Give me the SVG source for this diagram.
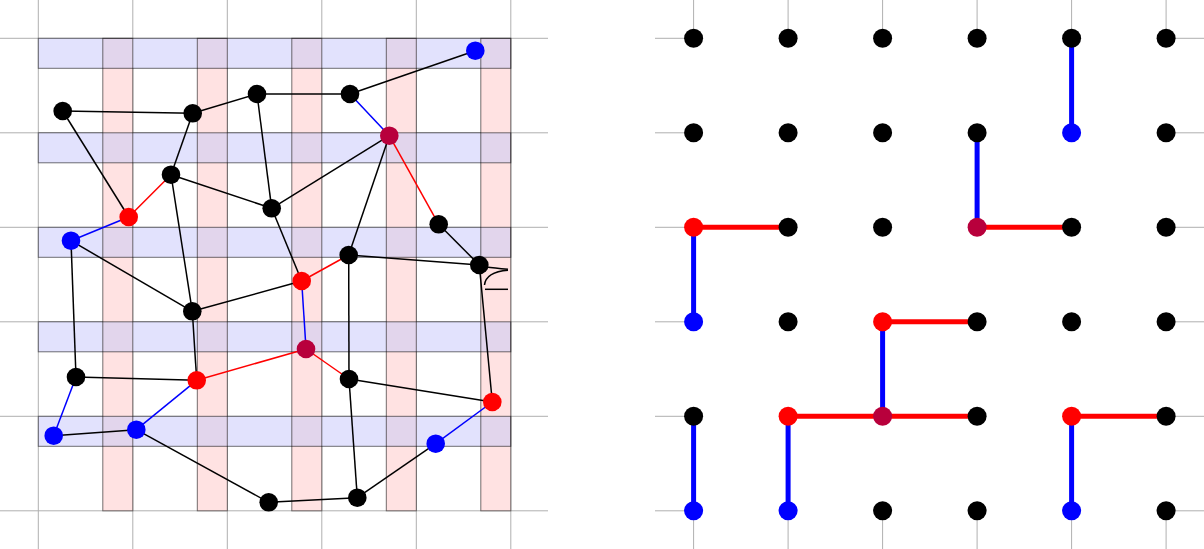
<svg xmlns="http://www.w3.org/2000/svg" width="1204" height="549" viewBox="0 0 1204 549">
<style>
.grid{stroke:#b0b0b0;stroke-width:1;fill:none}
.bb{fill:#e2e2fd}
.pb{fill:#ffe2e2}
.ob{fill:#e2d5ec}
.bs{fill:none;stroke:#000;stroke-opacity:0.55;stroke-width:1}
.ek{stroke:#000;stroke-width:1.5;fill:none}
.er{stroke:#ff0000;stroke-width:1.5;fill:none}
.eb{stroke:#0000ff;stroke-width:1.5;fill:none}
.tr{stroke:#ff0000;stroke-width:5;fill:none}
.tb{stroke:#0000ff;stroke-width:5;fill:none}
.k{fill:#000}
.r{fill:#ff0000}
.b{fill:#0000ff}
.p{fill:#b8003c}
</style>
<rect x="0" y="0" width="1204" height="549" fill="#fff"/>
<g id="left-grid" class="grid">
<path d="M38.3 0V549M132.8 0V549M227.3 0V549M321.8 0V549M416.3 0V549M510.8 0V549"/>
<path d="M0 38.3H548M0 132.8H548M0 227.3H548M0 321.8H548M0 416.3H548M0 510.8H548"/>
</g>
<g id="bands">
<g class="bb">
<rect x="38.3" y="38.3" width="472.5" height="30"/>
<rect x="38.3" y="132.8" width="472.5" height="30"/>
<rect x="38.3" y="227.3" width="472.5" height="30"/>
<rect x="38.3" y="321.8" width="472.5" height="30"/>
<rect x="38.3" y="416.3" width="472.5" height="30"/>
</g>
<g class="pb">
<rect x="102.8" y="38.3" width="30" height="472.5"/>
<rect x="197.3" y="38.3" width="30" height="472.5"/>
<rect x="291.8" y="38.3" width="30" height="472.5"/>
<rect x="386.3" y="38.3" width="30" height="472.5"/>
<rect x="480.8" y="38.3" width="30" height="472.5"/>
</g>
<g class="ob">
<rect x="102.8" y="38.3" width="30" height="30"/><rect x="197.3" y="38.3" width="30" height="30"/><rect x="291.8" y="38.3" width="30" height="30"/><rect x="386.3" y="38.3" width="30" height="30"/><rect x="480.8" y="38.3" width="30" height="30"/>
<rect x="102.8" y="132.8" width="30" height="30"/><rect x="197.3" y="132.8" width="30" height="30"/><rect x="291.8" y="132.8" width="30" height="30"/><rect x="386.3" y="132.8" width="30" height="30"/><rect x="480.8" y="132.8" width="30" height="30"/>
<rect x="102.8" y="227.3" width="30" height="30"/><rect x="197.3" y="227.3" width="30" height="30"/><rect x="291.8" y="227.3" width="30" height="30"/><rect x="386.3" y="227.3" width="30" height="30"/><rect x="480.8" y="227.3" width="30" height="30"/>
<rect x="102.8" y="321.8" width="30" height="30"/><rect x="197.3" y="321.8" width="30" height="30"/><rect x="291.8" y="321.8" width="30" height="30"/><rect x="386.3" y="321.8" width="30" height="30"/><rect x="480.8" y="321.8" width="30" height="30"/>
<rect x="102.8" y="416.3" width="30" height="30"/><rect x="197.3" y="416.3" width="30" height="30"/><rect x="291.8" y="416.3" width="30" height="30"/><rect x="386.3" y="416.3" width="30" height="30"/><rect x="480.8" y="416.3" width="30" height="30"/>
</g>
<g class="bs">
<rect x="38.3" y="38.3" width="472.5" height="30"/>
<rect x="38.3" y="132.8" width="472.5" height="30"/>
<rect x="38.3" y="227.3" width="472.5" height="30"/>
<rect x="38.3" y="321.8" width="472.5" height="30"/>
<rect x="38.3" y="416.3" width="472.5" height="30"/>
<rect x="102.8" y="38.3" width="30" height="472.5"/>
<rect x="197.3" y="38.3" width="30" height="472.5"/>
<rect x="291.8" y="38.3" width="30" height="472.5"/>
<rect x="386.3" y="38.3" width="30" height="472.5"/>
<rect x="480.8" y="38.3" width="30" height="472.5"/>
</g>
</g>
<g id="connectors">
<line class="ek" x1="62.7" y1="111" x2="192.7" y2="113.3"/>
<line class="ek" x1="62.7" y1="111" x2="128.7" y2="217"/>
<line class="ek" x1="192.7" y1="113.3" x2="257" y2="94"/>
<line class="ek" x1="192.7" y1="113.3" x2="171" y2="174.7"/>
<line class="ek" x1="257" y1="94" x2="350" y2="94"/>
<line class="ek" x1="257" y1="94" x2="271.7" y2="208.3"/>
<line class="ek" x1="350" y1="94" x2="475.3" y2="50.7"/>
<line class="eb" x1="350" y1="94" x2="389.3" y2="135.7"/>
<line class="ek" x1="389.3" y1="135.7" x2="271.7" y2="208.3"/>
<line class="ek" x1="389.3" y1="135.7" x2="348.7" y2="255"/>
<line class="er" x1="389.3" y1="135.7" x2="438.7" y2="224.3"/>
<line class="ek" x1="438.7" y1="224.3" x2="479.3" y2="265"/>
<line class="er" x1="171" y1="174.7" x2="128.7" y2="217"/>
<line class="ek" x1="171" y1="174.7" x2="271.7" y2="208.3"/>
<line class="ek" x1="171" y1="174.7" x2="192.3" y2="311.3"/>
<line class="eb" x1="128.7" y1="217" x2="71" y2="240.7"/>
<line class="ek" x1="71" y1="240.7" x2="192.3" y2="311.3"/>
<line class="ek" x1="71" y1="240.7" x2="76" y2="377"/>
<line class="ek" x1="271.7" y1="208.3" x2="301.7" y2="281"/>
<line class="er" x1="301.7" y1="281" x2="348.7" y2="255"/>
<line class="ek" x1="301.7" y1="281" x2="192.3" y2="311.3"/>
<line class="eb" x1="301.7" y1="281" x2="306" y2="349"/>
<line class="ek" x1="348.7" y1="255" x2="479.3" y2="265"/>
<line class="ek" x1="348.7" y1="255" x2="349" y2="379"/>
<line class="ek" x1="479.3" y1="265" x2="492.3" y2="402"/>
<path class="ek" d="M486 267Q494 268 508 269.3"/>
<path class="ek" d="M484.5 285Q486 272 508 270.3"/>
<line class="ek" x1="485" y1="289.3" x2="508" y2="289.3"/>
<line class="ek" x1="76" y1="377" x2="196.7" y2="380.3"/>
<line class="eb" x1="76" y1="377" x2="53.7" y2="435.7"/>
<line class="ek" x1="53.7" y1="435.7" x2="136.3" y2="429.7"/>
<line class="eb" x1="136.3" y1="429.7" x2="196.7" y2="380.3"/>
<line class="ek" x1="136.3" y1="429.7" x2="268.7" y2="502.3"/>
<line class="ek" x1="196.7" y1="380.3" x2="192.3" y2="311.3"/>
<line class="er" x1="196.7" y1="380.3" x2="306" y2="349"/>
<line class="er" x1="306" y1="349" x2="349" y2="379"/>
<line class="ek" x1="349" y1="379" x2="492.3" y2="402"/>
<line class="ek" x1="349" y1="379" x2="357.3" y2="497.7"/>
<line class="eb" x1="492.3" y1="402" x2="435.7" y2="443.7"/>
<line class="ek" x1="435.7" y1="443.7" x2="357.3" y2="497.7"/>
<line class="ek" x1="357.3" y1="497.7" x2="268.7" y2="502.3"/>
</g>
<g id="left-nodes">
<g id="nA"><circle class="k" cx="62.7" cy="111" r="9.3"/></g>
<g id="nB"><circle class="k" cx="192.7" cy="113.3" r="9.3"/></g>
<g id="nC"><circle class="k" cx="257" cy="94" r="9.3"/></g>
<g id="nD"><circle class="k" cx="171" cy="174.7" r="9.3"/></g>
<g id="nE"><circle class="r" cx="128.7" cy="217" r="9.3"/></g>
<g id="nF"><circle class="b" cx="71" cy="240.7" r="9.3"/></g>
<g id="nG"><circle class="k" cx="271.7" cy="208.3" r="9.3"/></g>
<g id="nH"><circle class="b" cx="475.3" cy="50.7" r="9.3"/></g>
<g id="nI"><circle class="k" cx="350" cy="94" r="9.3"/></g>
<g id="nJ"><circle class="p" cx="389.3" cy="135.7" r="9.3"/></g>
<g id="nK"><circle class="k" cx="438.7" cy="224.3" r="9.3"/></g>
<g id="nL"><circle class="k" cx="348.7" cy="255" r="9.3"/></g>
<g id="nM"><circle class="k" cx="479.3" cy="265" r="9.3"/></g>
<g id="nN"><circle class="r" cx="301.7" cy="281" r="9.3"/></g>
<g id="nO"><circle class="k" cx="192.3" cy="311.3" r="9.3"/></g>
<g id="nP"><circle class="k" cx="76" cy="377" r="9.3"/></g>
<g id="nQ"><circle class="r" cx="196.7" cy="380.3" r="9.3"/></g>
<g id="nR"><circle class="b" cx="53.7" cy="435.7" r="9.3"/></g>
<g id="nS"><circle class="b" cx="136.3" cy="429.7" r="9.3"/></g>
<g id="nT"><circle class="k" cx="268.7" cy="502.3" r="9.3"/></g>
<g id="nU"><circle class="p" cx="306" cy="349" r="9.3"/></g>
<g id="nV"><circle class="k" cx="349" cy="379" r="9.3"/></g>
<g id="nW"><circle class="r" cx="492.3" cy="402" r="9.3"/></g>
<g id="nX"><circle class="b" cx="435.7" cy="443.7" r="9.3"/></g>
<g id="nY"><circle class="k" cx="357.3" cy="497.7" r="9.3"/></g>
</g>
<g id="right-grid" class="grid">
<path d="M693.6 0V38.3M788.1 0V38.3M882.6 0V38.3M977.1 0V38.3M1071.6 0V38.3M1166.1 0V38.3"/>
<path d="M693.6 510.8V549M788.1 510.8V549M882.6 510.8V549M977.1 510.8V549M1071.6 510.8V549M1166.1 510.8V549"/>
<path d="M655 38.3H693.6M655 132.8H693.6M655 227.3H693.6M655 321.8H693.6M655 416.3H693.6M655 510.8H693.6"/>
<path d="M1166.1 38.3H1204M1166.1 132.8H1204M1166.1 227.3H1204M1166.1 321.8H1204M1166.1 416.3H1204M1166.1 510.8H1204"/>
</g>
<g id="right-connectors">
<line class="tb" x1="1071.6" y1="38.3" x2="1071.6" y2="132.8"/>
<line class="tb" x1="977.1" y1="132.8" x2="977.1" y2="227.3"/>
<line class="tr" x1="977.1" y1="227.3" x2="1071.6" y2="227.3"/>
<line class="tr" x1="693.6" y1="227.3" x2="788.1" y2="227.3"/>
<line class="tb" x1="693.6" y1="227.3" x2="693.6" y2="321.8"/>
<line class="tr" x1="882.6" y1="321.8" x2="977.1" y2="321.8"/>
<line class="tb" x1="882.6" y1="321.8" x2="882.6" y2="416.3"/>
<line class="tr" x1="788.1" y1="416.3" x2="977.1" y2="416.3"/>
<line class="tb" x1="788.1" y1="416.3" x2="788.1" y2="510.8"/>
<line class="tb" x1="693.6" y1="416.3" x2="693.6" y2="510.8"/>
<line class="tr" x1="1071.6" y1="416.3" x2="1166.1" y2="416.3"/>
<line class="tb" x1="1071.6" y1="416.3" x2="1071.6" y2="510.8"/>
</g>
<g id="right-nodes">
<g id="d00"><circle class="k" cx="693.6" cy="38.3" r="9.5"/></g>
<g id="d10"><circle class="k" cx="788.1" cy="38.3" r="9.5"/></g>
<g id="d20"><circle class="k" cx="882.6" cy="38.3" r="9.5"/></g>
<g id="d30"><circle class="k" cx="977.1" cy="38.3" r="9.5"/></g>
<g id="d40"><circle class="k" cx="1071.6" cy="38.3" r="9.5"/></g>
<g id="d50"><circle class="k" cx="1166.1" cy="38.3" r="9.5"/></g>
<g id="d01"><circle class="k" cx="693.6" cy="132.8" r="9.5"/></g>
<g id="d11"><circle class="k" cx="788.1" cy="132.8" r="9.5"/></g>
<g id="d21"><circle class="k" cx="882.6" cy="132.8" r="9.5"/></g>
<g id="d31"><circle class="k" cx="977.1" cy="132.8" r="9.5"/></g>
<g id="d41"><circle class="b" cx="1071.6" cy="132.8" r="9.5"/></g>
<g id="d51"><circle class="k" cx="1166.1" cy="132.8" r="9.5"/></g>
<g id="d02"><circle class="r" cx="693.6" cy="227.3" r="9.5"/></g>
<g id="d12"><circle class="k" cx="788.1" cy="227.3" r="9.5"/></g>
<g id="d22"><circle class="k" cx="882.6" cy="227.3" r="9.5"/></g>
<g id="d32"><circle class="p" cx="977.1" cy="227.3" r="9.5"/></g>
<g id="d42"><circle class="k" cx="1071.6" cy="227.3" r="9.5"/></g>
<g id="d52"><circle class="k" cx="1166.1" cy="227.3" r="9.5"/></g>
<g id="d03"><circle class="b" cx="693.6" cy="321.8" r="9.5"/></g>
<g id="d13"><circle class="k" cx="788.1" cy="321.8" r="9.5"/></g>
<g id="d23"><circle class="r" cx="882.6" cy="321.8" r="9.5"/></g>
<g id="d33"><circle class="k" cx="977.1" cy="321.8" r="9.5"/></g>
<g id="d43"><circle class="k" cx="1071.6" cy="321.8" r="9.5"/></g>
<g id="d53"><circle class="k" cx="1166.1" cy="321.8" r="9.5"/></g>
<g id="d04"><circle class="k" cx="693.6" cy="416.3" r="9.5"/></g>
<g id="d14"><circle class="r" cx="788.1" cy="416.3" r="9.5"/></g>
<g id="d24"><circle class="p" cx="882.6" cy="416.3" r="9.5"/></g>
<g id="d34"><circle class="k" cx="977.1" cy="416.3" r="9.5"/></g>
<g id="d44"><circle class="r" cx="1071.6" cy="416.3" r="9.5"/></g>
<g id="d54"><circle class="k" cx="1166.1" cy="416.3" r="9.5"/></g>
<g id="d05"><circle class="b" cx="693.6" cy="510.8" r="9.5"/></g>
<g id="d15"><circle class="b" cx="788.1" cy="510.8" r="9.5"/></g>
<g id="d25"><circle class="k" cx="882.6" cy="510.8" r="9.5"/></g>
<g id="d35"><circle class="k" cx="977.1" cy="510.8" r="9.5"/></g>
<g id="d45"><circle class="b" cx="1071.6" cy="510.8" r="9.5"/></g>
<g id="d55"><circle class="k" cx="1166.1" cy="510.8" r="9.5"/></g>
</g>
</svg>
